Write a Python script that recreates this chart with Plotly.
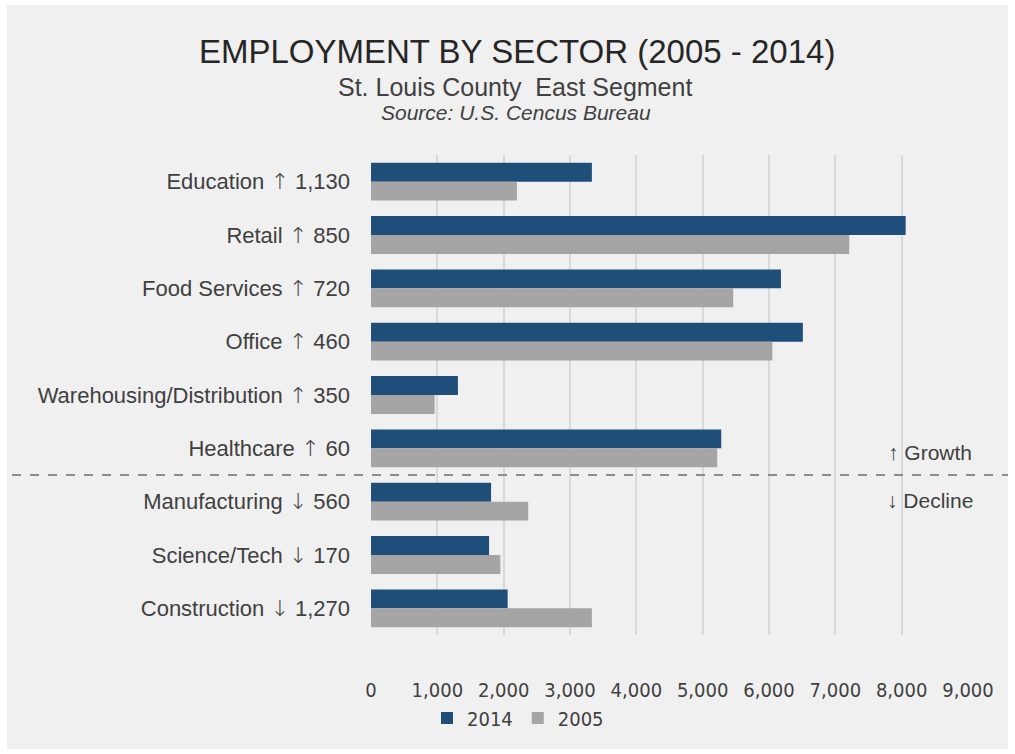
import plotly.graph_objects as go

categories = ["Education ↑ 1,130", "Retail ↑ 850", "Food Services ↑ 720", "Office ↑ 460",
              "Warehousing/Distribution ↑ 350", "Healthcare ↑ 60",
              "Manufacturing ↓ 560", "Science/Tech ↓ 170", "Construction ↓ 1,270"]
values_2014 = [3330, 8060, 6180, 6510, 1310, 5280, 1810, 1780, 2060]
values_2005 = [2200, 7210, 5460, 6050, 960, 5220, 2370, 1950, 3330]
x_ticks = [0, 1000, 2000, 3000, 4000, 5000, 6000, 7000, 8000, 9000]
x_tick_labels = ["0", "1,000", "2,000", "3,000", "4,000", "5,000", "6,000", "7,000", "8,000", "9,000"]

W, H = 1015, 754
L, R, T, B = 371, 968, 155, 635  # plot area in px

def px_x(px):
    return (px - L) / (R - L)

def px_y(py):
    return (B - py) / (B - T)

narrow = "DejaVu Sans Condensed, Liberation Sans Narrow, Liberation Sans, sans-serif"
reg = "Liberation Sans, Arial, sans-serif"

# style arrows in category tick labels with a taller arrow glyph
def style_label(s):
    for a in ("↑", "↓"):
        s = s.replace(a, "<span style=\"font-family:'DejaVu Sans';font-weight:300\">" + a + "</span>")
    return s

y_tick_text = [style_label(c) for c in categories]

fig = go.Figure()
fig.add_trace(go.Bar(y=categories, x=values_2014, name="2014", orientation="h",
                     marker=dict(color="#1f4e79", line=dict(width=0))))
fig.add_trace(go.Bar(y=categories, x=values_2005, name="2005", orientation="h",
                     marker=dict(color="#a5a5a5", line=dict(width=0))))

fig.update_layout(
    width=W, height=H,
    margin=dict(l=L, r=W - R, t=T, b=H - B, pad=0),
    paper_bgcolor="white",
    plot_bgcolor="rgba(0,0,0,0)",
    barmode="group",
    bargap=0.29,
    bargroupgap=0,
    showlegend=True,
    legend=dict(orientation="h", x=px_x(518), xanchor="center", y=px_y(718), yanchor="middle",
                font=dict(family=narrow, size=20, color="#404040"), bgcolor="rgba(0,0,0,0)",
                itemwidth=30, traceorder="normal"),
    xaxis=dict(range=[0, 9000], tickvals=x_ticks, ticktext=x_tick_labels,
               showgrid=True, gridcolor="#d9d9d9", gridwidth=2, zeroline=False,
               showline=False, ticks="", ticklabelstandoff=41,
               tickfont=dict(family=narrow, size=20, color="#404040"), fixedrange=True),
    yaxis=dict(autorange="reversed", showgrid=False, zeroline=False, showline=False,
               tickvals=categories, ticktext=y_tick_text,
               ticks="", ticklabelstandoff=20,
               tickfont=dict(family=reg, size=22, color="#404040")),
    shapes=[
        dict(type="rect", xref="paper", yref="paper", x0=px_x(7), x1=px_x(1008),
             y0=px_y(749), y1=px_y(5), fillcolor="#f0f0f0", line=dict(width=0), layer="below"),
        dict(type="line", xref="paper", yref="y", x0=px_x(12), x1=px_x(1008), y0=5.5, y1=5.5,
             line=dict(color="#8c8c8c", width=2, dash="dash"), layer="above"),
    ],
    annotations=[
        dict(text="EMPLOYMENT BY SECTOR (2005 - 2014)", xref="paper", yref="paper",
             x=px_x(517), y=px_y(51), xanchor="center", yanchor="middle", showarrow=False,
             font=dict(family=reg, size=33, color="#262626")),
        dict(text="St. Louis County  East Segment", xref="paper", yref="paper",
             x=px_x(515), y=px_y(87), xanchor="center", yanchor="middle", showarrow=False,
             font=dict(family=reg, size=25, color="#404040")),
        dict(text="<i>Source: U.S. Cencus Bureau</i>", xref="paper", yref="paper",
             x=px_x(516), y=px_y(112), xanchor="center", yanchor="middle", showarrow=False,
             font=dict(family=reg, size=21, color="#404040")),
        dict(text="↑ Growth", xref="paper", yref="paper", x=px_x(930), y=px_y(452),
             xanchor="center", yanchor="middle", showarrow=False,
             font=dict(family=reg, size=21, color="#404040")),
        dict(text="↓ Decline", xref="paper", yref="paper", x=px_x(930), y=px_y(500),
             xanchor="center", yanchor="middle", showarrow=False,
             font=dict(family=reg, size=21, color="#404040")),
    ],
)

fig.write_html("out.html")
